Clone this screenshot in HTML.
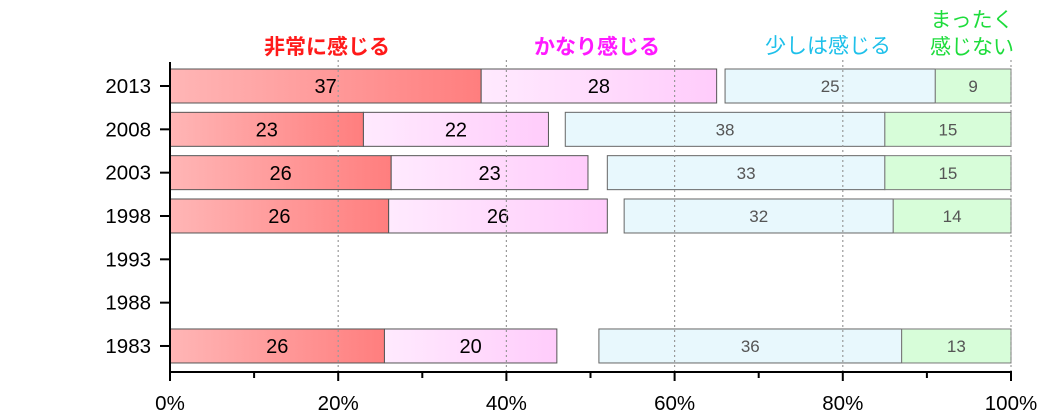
<!DOCTYPE html>
<html><head><meta charset="utf-8"><style>
html,body{margin:0;padding:0;background:#fff;}
svg{display:block;font-family:"Liberation Sans","Noto Sans CJK JP",sans-serif;}
</style></head><body>
<svg id="chart" width="1040" height="420" viewBox="0 0 1040 420" xmlns="http://www.w3.org/2000/svg" style="position:absolute;left:0;top:0">
<defs>
<linearGradient id="gRed" x1="0" x2="1" y1="0" y2="0"><stop offset="0" stop-color="#ffb6b6"/><stop offset="1" stop-color="#ff7e7e"/></linearGradient>
<linearGradient id="gPink" x1="0" x2="1" y1="0" y2="0"><stop offset="0" stop-color="#ffeafe"/><stop offset="1" stop-color="#ffccfb"/></linearGradient>
</defs>
<g id="grid"></g>
<g id="bars"></g>
<g id="axes"></g>
<g id="legend"></g>
</svg>
<script>
const years = ["2013","2008","2003","1998","1993","1988","1983"];
const strong = [37,23,26.3,26,null,null,25.5];
const fairly = [28,22,23.4,26,null,null,20.5];
const little = [25,38,33,32,null,null,36];
const none = [9,15,15,14,null,null,13];
const strongLbl = ["37","23","26","26","","","26"];
const fairlyLbl = ["28","22","23","26","","","20"];
const xTicks = [0,20,40,60,80,100];
const xTickLabels = ["0%","20%","40%","60%","80%","100%"];

const NS="http://www.w3.org/2000/svg";
const x0=170,x1=1011,yTop=86,yStep=43.33,barH=34,axisY=372;
const xs=v=>x0+(x1-x0)*v/100;
const ys=i=>yTop+i*yStep;
function mk(tag,attrs,parent){const e=document.createElementNS(NS,tag);for(const k in attrs)e.setAttribute(k,attrs[k]);parent.appendChild(e);return e;}
const gBars=document.getElementById('bars'),gAxes=document.getElementById('axes');

function seg(a,b,cy,fill,stroke,val,txtColor,size,name){
  const r=mk('rect',{x:xs(a),y:cy-barH/2,width:xs(b)-xs(a),height:barH,fill:fill,stroke:stroke,'stroke-width':1},gBars);
  
  
  const t=mk('text',{x:(xs(a)+xs(b))/2,y:cy+size*0.36,'text-anchor':'middle','font-size':size,fill:txtColor},gBars);
  t.textContent=val;
  
  
}
years.forEach((yr,i)=>{
  const cy=ys(i);
  if(strong[i]==null)return;
  const a=strong[i],b=a+fairly[i];
  seg(0,a,cy,'url(#gRed)','#555',strongLbl[i],'#000',20,'bar-strong-'+yr);
  seg(a,b,cy,'url(#gPink)','#555',fairlyLbl[i],'#000',20,'bar-fairly-'+yr);
  const d=100-none[i],c=d-little[i];
  seg(c,d,cy,'#e8f8fd','#666',little[i],'#555',17,'bar-little-'+yr);
  seg(d,100,cy,'#d7fdd9','#777',none[i],'#555',17,'bar-none-'+yr);
});
xTicks.forEach(v=>{if(v===0)return;
  const l=mk('line',{x1:xs(v),x2:xs(v),y1:60,y2:axisY,stroke:'#999','stroke-width':1.2,'stroke-dasharray':'2,3'},gBars);
  
  
});
const ya=mk('line',{x1:x0,x2:x0,y1:62,y2:axisY+1,stroke:'#000','stroke-width':2},gAxes);


const xa=mk('line',{x1:x0-1,x2:x1+1,y1:axisY,y2:axisY,stroke:'#000','stroke-width':2},gAxes);


years.forEach((yr,i)=>{
  const cy=ys(i);
  mk('line',{x1:x0-10,x2:x0,y1:cy,y2:cy,stroke:'#000','stroke-width':2},gAxes);
  const t=mk('text',{x:x0-19,y:cy+7,'text-anchor':'end','font-size':20.5,fill:'#000'},gAxes);
  t.textContent=yr;
  
  
});
for(let v=0;v<=100;v+=10){
  const major=v%20===0;
  mk('line',{x1:xs(v),x2:xs(v),y1:axisY,y2:axisY+(major?9:6),stroke:'#000','stroke-width':2},gAxes);
}
xTicks.forEach((v,i)=>{
  const t=mk('text',{x:xs(v),y:410,'text-anchor':'middle','font-size':20.5,fill:'#000'},gAxes);
  t.textContent=xTickLabels[i];
  
  
});
</script>
<svg style="position:absolute;left:0;top:0" width="1040" height="420">
<g font-family="Liberation Sans, Noto Sans CJK JP, sans-serif">
<text x="327" y="54" text-anchor="middle" font-size="21" font-weight="bold" fill="#ff1a1a">非常に感じる</text>
<text x="597" y="54" text-anchor="middle" font-size="21" font-weight="bold" fill="#ff1aff">かなり感じる</text>
<text x="828" y="53" text-anchor="middle" font-size="21" fill="#1ec0ea">少しは感じる</text>
<text x="972" y="27" text-anchor="middle" font-size="21" fill="#1edc3c">まったく</text>
<text x="972" y="54" text-anchor="middle" font-size="21" fill="#1edc3c">感じない</text>
</g>
</svg>
</body></html>
